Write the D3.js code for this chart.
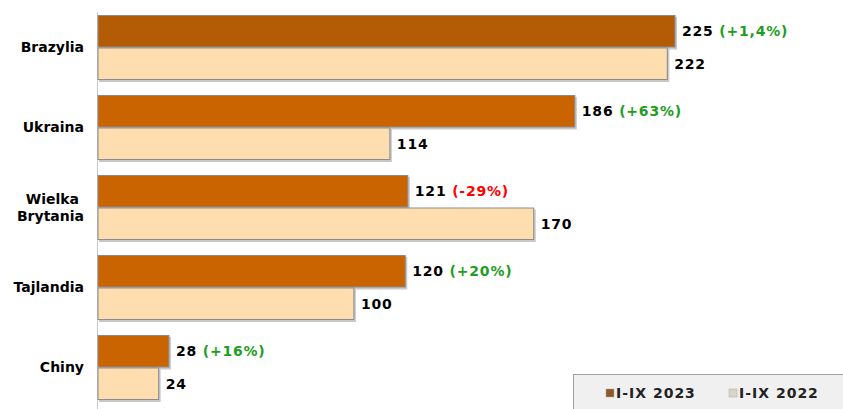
<!DOCTYPE html>
<html>
<head>
<meta charset="utf-8">
<script src="https://cdn.jsdelivr.net/npm/d3@7"></script>
<style>
  body { margin: 0; background: #fff; }
  text { font-family: "DejaVu Sans", Verdana, sans-serif; font-weight: bold; }
</style>
</head>
<body>
<div class="chart"></div>
<script>
var categories = ["Brazylia", "Ukraina", "Wielka Brytania", "Tajlandia", "Chiny"];
var values2023 = [225, 186, 121, 120, 28];
var values2022 = [222, 114, 170, 100, 24];
var changes = ["(+1,4%)", "(+63%)", "(-29%)", "(+20%)", "(+16%)"];
var seriesNames = ["I-IX 2023", "I-IX 2022"];

var width = 843, height = 409;
var left = 98;

var canvas = d3.select(".chart").append("svg")
  .attr("width", width)
  .attr("height", height);

var xScale = d3.scaleLinear().domain([0, 225]).range([left, 676]);
var yScale = d3.scaleBand().domain(categories).range([0, 415]).padding(0.1875);
var half = yScale.bandwidth() / 2;

// axis line
canvas.append("line")
  .attr("x1", left - 0.5).attr("x2", left - 0.5)
  .attr("y1", 12).attr("y2", height)
  .attr("stroke", "#c8c8c8").attr("stroke-width", 1);

var rows = categories.map(function(c, i){
  return {cat: c, v23: values2023[i], v22: values2022[i], ch: changes[i], i: i};
});

function drawBar(g, d, val, yOff, fill){
  g.append("rect")
    .attr("x", xScale(0) + 1)
    .attr("y", yScale(d.cat) + yOff + 2)
    .attr("width", xScale(val) - xScale(0))
    .attr("height", half)
    .attr("fill", "#9a9a9a").attr("opacity", 0.55);
  g.append("rect")
    .attr("x", xScale(0))
    .attr("y", yScale(d.cat) + yOff + 0.5)
    .attr("width", xScale(val) - xScale(0) - 1)
    .attr("height", half - 1)
    .attr("fill", fill)
    .attr("stroke", "#8c8c8c").attr("stroke-width", 1);
}

var groups = canvas.selectAll("g.row")
  .data(rows)
  .enter()
  .append("g").attr("class", "row");

groups.each(function(d){
  var g = d3.select(this);
  drawBar(g, d, d.v23, 0, d.i == 0 ? "#b35c05" : "#c96400");
  drawBar(g, d, d.v22, half, "#fedeae");

  var t1 = g.append("text")
    .attr("x", xScale(d.v23) + 6)
    .attr("y", yScale(d.cat) + half / 2)
    .attr("dy", "0.35em")
    .attr("font-size", 14)
    .attr("letter-spacing", 0.8)
    .attr("fill", "#000");
  t1.append("tspan").text(d.v23 + " ");
  t1.append("tspan")
    .attr("fill", d.ch.indexOf("-") >= 0 ? "#ff0000" : "#1e9e1e")
    .text(d.ch);

  g.append("text")
    .attr("x", xScale(d.v22) + 6)
    .attr("y", yScale(d.cat) + half * 1.5)
    .attr("dy", "0.35em")
    .attr("font-size", 14)
    .attr("letter-spacing", 0.8)
    .attr("fill", "#000")
    .text(d.v22);

  // category label
  var words = d.cat == "Wielka Brytania" ? ["Wielka", "Brytania"] : [d.cat];
  var lab = g.append("text")
    .attr("text-anchor", "end")
    .attr("x", 84)
    .attr("y", yScale(d.cat) + half)
    .attr("font-size", 14)
    .attr("fill", "#000");
  words.forEach(function(w, k){
    lab.append("tspan")
      .attr("x", k == 0 && words.length > 1 ? 79 : 84)
      .attr("dy", words.length > 1 ? (k == 0 ? "-0.25em" : "1.2em") : "0.35em")
      .text(w);
  });
});

// legend
var legend = canvas.append("g");
legend.append("rect")
  .attr("x", 573.5).attr("y", 374.5)
  .attr("width", 290).attr("height", 40)
  .attr("fill", "#f0f0f0").attr("stroke", "#a0a0a0");

var legendColors = ["#8a5a2a", "#d8d4c8"];
var legendX = [606, 729];
seriesNames.forEach(function(name, i){
  legend.append("rect")
    .attr("x", legendX[i]).attr("y", 389)
    .attr("width", 8).attr("height", 8)
    .attr("fill", legendColors[i])
    .attr("stroke", "#b0a898").attr("stroke-width", 0.5);
  legend.append("text")
    .attr("x", legendX[i] + 10)
    .attr("y", 393)
    .attr("dy", "0.35em")
    .attr("font-size", 14)
    .attr("letter-spacing", 1)
    .attr("fill", "#222")
    .text(name);
});
</script>
</body>
</html>
